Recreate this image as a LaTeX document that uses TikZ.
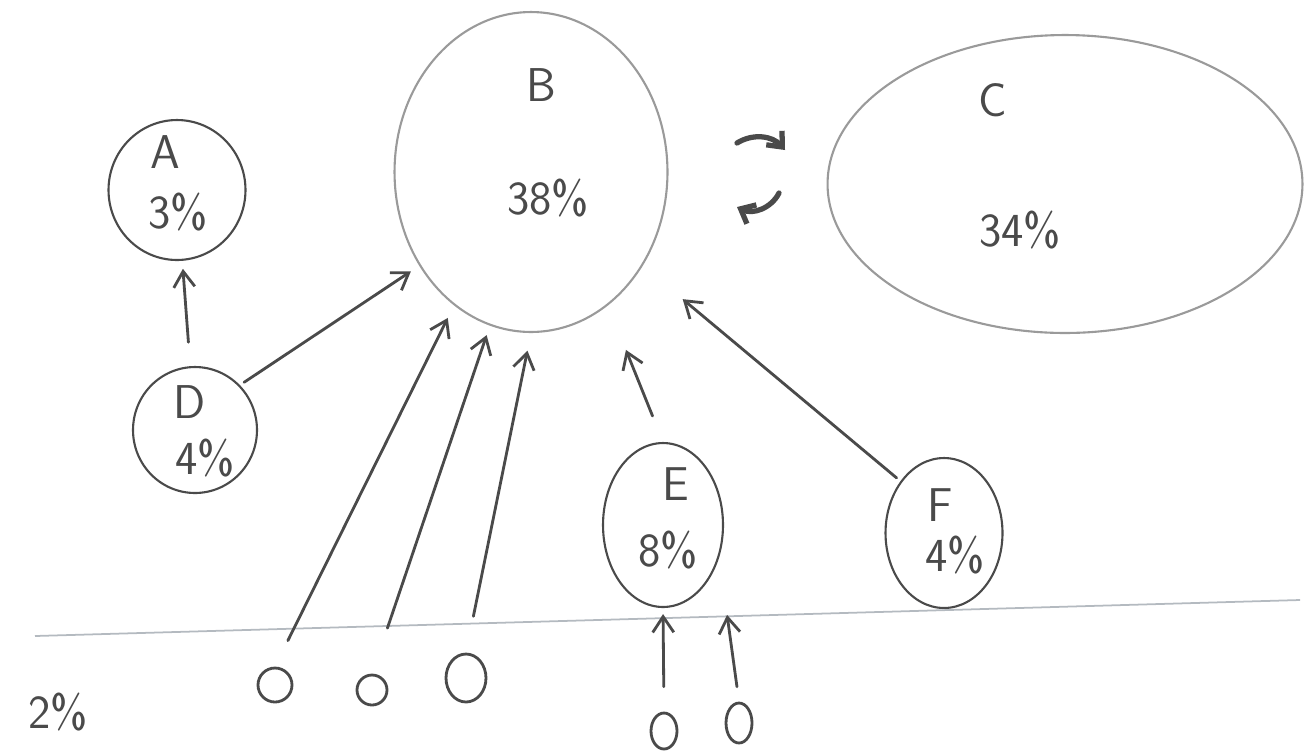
\documentclass[tikz,border=0pt]{standalone}
\usepackage{tikz}
\usetikzlibrary{shapes.geometric,arrows.meta}

\definecolor{pencil}{HTML}{4A4A4A}
\definecolor{faint}{HTML}{9A9A9A}
\definecolor{ground}{HTML}{B4BAC0}

\begin{document}
\begin{tikzpicture}
    [ x = .02cm, y = -.02cm
    , font = \sffamily\fontsize{27}{30}\selectfont
    , bubble/.style =
      { draw=pencil, ellipse, inner sep=0pt, line width=1.2pt }
    , bigbubble/.style =
      { bubble, draw=faint }
    , dot/.style =
      { bubble, line width=1.6pt }
    , label/.style =
      { inner sep=1pt, text=pencil }
    , flow/.style =
      { draw=pencil, line width=1.6pt, line cap=round
      , -{Straight Barb[length=9pt,width=12pt]} }
    , swap/.style =
      { flow, line width=3pt, -{Straight Barb[length=7pt,width=12pt]} }
    ]
    \useasboundingbox (0,0) rectangle (1307,755);

    % the bubbles
    \node [bubble, minimum width=2.74cm, minimum height=2.8cm] (A) at (177,190) {};
    \node [bigbubble, minimum width=5.46cm, minimum height=6.4cm] (B) at (531,172) {};
    \node [bigbubble, minimum width=9.5cm, minimum height=5.96cm] (C) at (1065,184) {};
    \node [bubble, minimum width=2.48cm, minimum height=2.52cm] (D) at (195,430) {};
    \node [bubble, minimum width=2.4cm, minimum height=3.28cm] (E) at (663,525) {};
    \node [bubble, minimum width=2.34cm, minimum height=3cm] (F) at (944,533) {};

    \node [label] (Aname) at (165,152) {A};
    \node [label] (Aval) at (178,212) {3\%};
    \node [label] (Bname) at (541,85) {B};
    \node [label] (Bval) at (548,198) {38\%};
    \node [label] (Cname) at (993,100) {C};
    \node [label] (Cval) at (1020,230) {34\%};
    \node [label] (Dname) at (190,402) {D};
    \node [label] (Dval) at (205,458) {4\%};
    \node [label] (Ename) at (676,484) {E};
    \node [label] (Eval) at (668,550) {8\%};
    \node [label] (Fname) at (940,505) {F};
    \node [label] (Fval) at (955,555) {4\%};
    \node [label] (rest) at (58,712) {2\%};

    % the ground line and the small ones under it
    \coordinate (g1) at (35,636);
    \coordinate (g2) at (1300,600);
    \draw [ground, line width=1pt] (g1) -- (g2);

    \node [dot, minimum width=.68cm, minimum height=.68cm] (s1) at (275,685) {};
    \node [dot, minimum width=.6cm, minimum height=.6cm] (s2) at (372,690) {};
    \node [dot, minimum width=.8cm, minimum height=.96cm] (s3) at (466,678) {};
    \node [dot, minimum width=.52cm, minimum height=.72cm] (t1) at (664,731) {};
    \node [dot, minimum width=.52cm, minimum height=.8cm] (t2) at (739,723) {};

    % arrows
    \draw [flow, shorten <=.48cm, shorten >=.16cm] (D) -- (A);
    \draw [flow, shorten <=.1cm, shorten >=.2cm] (D.45) -- (B.220);
    \draw [flow, shorten <=.58cm, shorten >=.28cm] (s1.north) -- (B.240);
    \draw [flow, shorten <=.96cm, shorten >=.2cm] (s2.north) -- (B.255);
    \draw [flow, shorten <=.74cm, shorten >=.36cm] (s3.north) -- (B.270);
    \draw [flow, shorten <=.56cm, shorten >=.96cm] (E.north) -- (B.300);
    \draw [flow, shorten <=.1cm, shorten >=1.04cm] (F.130) -- (B.320);
    \draw [flow, shorten <=.5cm, shorten >=.12cm] (t1.north) -- (E.south);
    \draw [flow, shorten <=.3cm, shorten >=1.16cm] (t2.north) -- (E.330);

    % the swap between B and C
    \coordinate (bc1) at (737,143);
    \coordinate (bc2) at (785,150);
    \coordinate (cb1) at (779,193);
    \coordinate (cb2) at (737,207);
    \draw [swap] (bc1) to [bend left=40] (bc2);
    \draw [swap] (cb1) to [bend left=45] (cb2);
\end{tikzpicture}
\end{document}
